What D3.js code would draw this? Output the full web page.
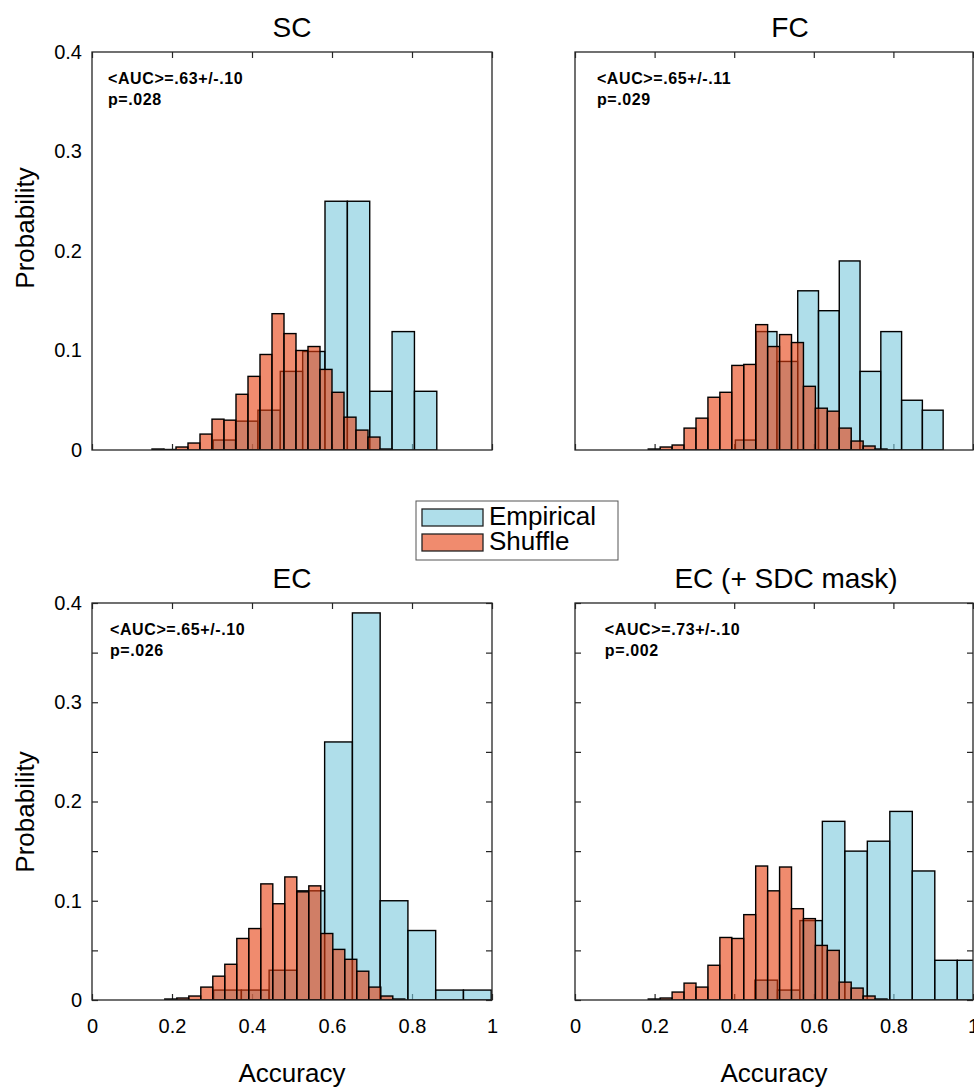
<!DOCTYPE html>
<html>
<head>
<meta charset="utf-8">
<script src="https://cdn.jsdelivr.net/npm/d3@7"></script>
<style>
  body { margin: 0; background: #fff; }
  text { font-family: "Liberation Sans", Arial, sans-serif; fill: #000; }
</style>
</head>
<body>
<div id="draw"></div>
<script>
// panel titles and annotations
var titles = ['SC', 'FC', 'EC', 'EC (+ SDC mask)'];
var aucLabels = ['<AUC>=.63+/-.10', '<AUC>=.65+/-.11', '<AUC>=.65+/-.10', '<AUC>=.73+/-.10'];
var pLabels = ['p=.028', 'p=.029', 'p=.026', 'p=.002'];

// empirical histograms: first bin edge, bin width, probabilities
var empStart = [0.303, 0.403, 0.304, 0.452];
var empWidth = [0.0559, 0.0522, 0.0694, 0.0565];
var scEmpirical = [0.01, 0.029, 0.04, 0.079, 0.099, 0.25, 0.25, 0.059, 0.119, 0.059];
var fcEmpirical = [0.01, 0.119, 0.089, 0.16, 0.14, 0.19, 0.079, 0.119, 0.05, 0.04];
var ecEmpirical = [0.01, 0.01, 0.03, 0.11, 0.26, 0.39, 0.10, 0.07, 0.01, 0.01];
var ecMaskEmpirical = [0.02, 0.01, 0.08, 0.18, 0.15, 0.16, 0.19, 0.13, 0.04, 0.04];

// shuffled histograms
var shufStart = [0.15, 0.184, 0.182, 0.184];
var shufWidth = 0.03;
var scShuffle = [0.001, 0.0005, 0.003, 0.007, 0.016, 0.031, 0.030, 0.056, 0.074, 0.096, 0.137,
                 0.117, 0.100, 0.104, 0.081, 0.058, 0.033, 0.020, 0.013, 0.001];
var fcShuffle = [0.001, 0.003, 0.005, 0.022, 0.032, 0.053, 0.058, 0.085, 0.086, 0.126, 0.104,
                 0.116, 0.108, 0.064, 0.042, 0.039, 0.022, 0.009, 0.004, 0.001];
var ecShuffle = [0.001, 0.002, 0.004, 0.013, 0.024, 0.036, 0.062, 0.072, 0.117, 0.097, 0.124,
                 0.109, 0.115, 0.067, 0.051, 0.041, 0.029, 0.013, 0.004, 0.001];
var ecMaskShuffle = [0.001, 0.002, 0.008, 0.017, 0.013, 0.035, 0.063, 0.062, 0.086, 0.135, 0.110,
                     0.134, 0.092, 0.082, 0.055, 0.050, 0.018, 0.012, 0.004, 0.001];

var empirical = [scEmpirical, fcEmpirical, ecEmpirical, ecMaskEmpirical];
var shuffle = [scShuffle, fcShuffle, ecShuffle, ecMaskShuffle];

var xTicks = [0, 0.2, 0.4, 0.6, 0.8, 1];
var yTicks = [0, 0.1, 0.2, 0.3, 0.4];
var yMinorTicks = [0, 0.05, 0.1, 0.15, 0.2, 0.25, 0.3, 0.35, 0.4];
var legendNames = ['Empirical', 'Shuffle'];

// layout of the four axes
var panels = [
  {left: 92,  right: 492, top: 52,  bottom: 450, titleX: 292, yLab: true,  xLab: false, aucX: 0.04,  ylabY: 228},
  {left: 575, right: 973, top: 52,  bottom: 450, titleX: 790, yLab: false, xLab: false, aucX: 0.055, ylabY: 0},
  {left: 92,  right: 492, top: 603, bottom: 1000, titleX: 292, yLab: true,  xLab: true,  aucX: 0.045, ylabY: 812},
  {left: 575, right: 973, top: 603, bottom: 1000, titleX: 786, yLab: false, xLab: true,  aucX: 0.075, ylabY: 0}
];

var blueFill = 'rgb(122,200,220)';
var orangeFill = 'rgb(230,62,14)';
var faceAlpha = 0.6;

var svg = d3.select('#draw').append('svg')
    .attr('width', 974).attr('height', 1089)
    .style('display', 'block');

function bins(values, start, width) {
  return values.map(function(v, i) {
    return {x0: start + i * width, x1: start + (i + 1) * width, p: v};
  });
}

panels.forEach(function(pn, k) {
  var x = d3.scaleLinear().domain([0, 1]).range([pn.left, pn.right]);
  var y = d3.scaleLinear().domain([0, 0.4]).range([pn.bottom, pn.top]);
  var g = svg.append('g');

  g.append('clipPath').attr('id', 'clip' + k)
    .append('rect')
    .attr('x', pn.left).attr('y', pn.top)
    .attr('width', pn.right - pn.left).attr('height', pn.bottom - pn.top);

  // ticks, inward on all sides
  var tickStyle = function(sel) {
    sel.select('.domain').remove();
    sel.selectAll('line').attr('stroke', '#262626').attr('stroke-width', 1.2);
    sel.selectAll('text').style('font-size', '20px').attr('fill', '#000')
      .style('font-family', '"Liberation Sans", Arial, sans-serif');
  };
  g.append('g').attr('transform', 'translate(0,' + pn.top + ')')
    .call(d3.axisTop(x).tickValues(xTicks).tickSize(-6).tickFormat(''))
    .call(tickStyle);
  g.append('g').attr('transform', 'translate(0,' + pn.bottom + ')')
    .call(d3.axisBottom(x).tickValues(xTicks).tickSize(-6).tickPadding(19)
      .tickFormat(pn.xLab ? function(d) { return d; } : ''))
    .call(tickStyle);
  if (pn.xLab) {
    g.append('g').attr('transform', 'translate(' + pn.left + ',0)')
      .call(d3.axisLeft(y).tickValues(yMinorTicks).tickSize(-6).tickFormat(''))
      .call(tickStyle);
    g.append('g').attr('transform', 'translate(' + pn.right + ',0)')
      .call(d3.axisRight(y).tickValues(yMinorTicks).tickSize(-6).tickFormat(''))
      .call(tickStyle);
  }
  if (pn.yLab) {
    g.append('g').attr('transform', 'translate(' + pn.left + ',0)')
      .call(d3.axisLeft(y).tickValues(yTicks).tickSize(0).tickPadding(10)
        .tickFormat(function(d) { return d; }))
      .call(tickStyle);
  }

  var bars = g.append('g').attr('clip-path', 'url(#clip' + k + ')');

  // empirical first, shuffle drawn on top
  bars.selectAll('rect.emp')
    .data(bins(empirical[k], empStart[k], empWidth[k]))
    .enter().append('rect')
    .attr('class', 'emp')
    .attr('x', function(d) { return x(d.x0); })
    .attr('width', function(d) { return x(d.x1) - x(d.x0); })
    .attr('y', function(d) { return y(d.p); })
    .attr('height', function(d) { return y(0) - y(d.p); })
    .attr('fill', blueFill).attr('fill-opacity', faceAlpha)
    .attr('stroke', '#000').attr('stroke-width', 1.4);

  bars.selectAll('rect.shuf')
    .data(bins(shuffle[k], shufStart[k], shufWidth))
    .enter().append('rect')
    .attr('class', 'shuf')
    .attr('x', function(d) { return x(d.x0); })
    .attr('width', function(d) { return x(d.x1) - x(d.x0); })
    .attr('y', function(d) { return y(d.p); })
    .attr('height', function(d) { return y(0) - y(d.p); })
    .attr('fill', orangeFill).attr('fill-opacity', faceAlpha)
    .attr('stroke', '#000').attr('stroke-width', 1.4);

  // axes box
  g.append('rect')
    .attr('x', pn.left).attr('y', pn.top)
    .attr('width', pn.right - pn.left).attr('height', pn.bottom - pn.top)
    .attr('fill', 'none').attr('stroke', '#262626').attr('stroke-width', 1.3);

  g.append('text')
    .attr('x', pn.titleX).attr('y', pn.top - 15)
    .attr('text-anchor', 'middle')
    .style('font-size', '28px')
    .text(titles[k]);

  g.append('text')
    .attr('x', x(pn.aucX)).attr('y', pn.top + 32)
    .style('font-size', '16px').style('font-weight', 'bold')
    .style('letter-spacing', '0.6px')
    .text(aucLabels[k]);
  g.append('text')
    .attr('x', x(pn.aucX)).attr('y', pn.top + 53)
    .style('font-size', '16px').style('font-weight', 'bold')
    .style('letter-spacing', '0.6px')
    .text(pLabels[k]);

  if (pn.yLab) {
    g.append('text')
      .attr('transform', 'translate(34,' + pn.ylabY + ') rotate(-90)')
      .attr('text-anchor', 'middle')
      .style('font-size', '26px')
      .text('Probability');
  }
  if (pn.xLab) {
    g.append('text')
      .attr('x', (pn.left + pn.right) / 2).attr('y', 1082)
      .attr('text-anchor', 'middle')
      .style('font-size', '26px')
      .text('Accuracy');
  }
});

// legend between the rows
var legend = svg.append('g');
legend.append('rect')
  .attr('x', 416).attr('y', 501).attr('width', 202).attr('height', 59)
  .attr('fill', '#fff').attr('stroke', '#555').attr('stroke-width', 1);
legend.selectAll('rect.sw')
  .data(legendNames)
  .enter().append('rect')
  .attr('class', 'sw')
  .attr('x', 422)
  .attr('y', function(d, i) { return 509 + i * 25; })
  .attr('width', 61).attr('height', 17)
  .attr('fill', function(d, i) { return i === 0 ? blueFill : orangeFill; })
  .attr('fill-opacity', faceAlpha)
  .attr('stroke', '#222').attr('stroke-width', 1.3);
legend.selectAll('text')
  .data(legendNames)
  .enter().append('text')
  .attr('x', 489)
  .attr('y', function(d, i) { return 525 + i * 25; })
  .style('font-size', '26px')
  .text(function(d) { return d; });
</script>
</body>
</html>
